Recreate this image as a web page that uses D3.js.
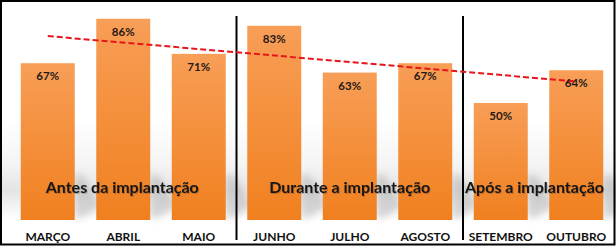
<!DOCTYPE html>
<html><head><meta charset="utf-8">
<script src="https://cdn.jsdelivr.net/npm/d3@7"></script>
<style>html,body{margin:0;padding:0;background:#fff;}svg{display:block;}</style>
</head><body>
<script>
const months = ["MARÇO","ABRIL","MAIO","JUNHO","JULHO","AGOSTO","SETEMBRO","OUTUBRO"];
const values = [67,86,71,83,63,67,50,64];
const groups = ["Antes da implantação","Durante a implantação","Após a implantação"];
const groupStart = [0,3,6];
const groupEnd = [2,5,7];
const trendEnds = [78.6,59.2];

const W=616,H=246;
const svg=d3.select("body").append("svg").attr("width",W).attr("height",H);
const defs=svg.append("defs");
const g1=defs.append("linearGradient").attr("id","barg").attr("x1",0).attr("y1",0).attr("x2",0).attr("y2",1);
g1.append("stop").attr("offset","0%").attr("stop-color","#F89E57");
g1.append("stop").attr("offset","100%").attr("stop-color","#F0801F");
const bg=defs.append("linearGradient").attr("id","bgg").attr("x1",0).attr("y1",0).attr("x2",0).attr("y2",1);
bg.append("stop").attr("offset","0%").attr("stop-color","#ffffff");
bg.append("stop").attr("offset","45%").attr("stop-color","#f4f4f4");
bg.append("stop").attr("offset","70%").attr("stop-color","#e4e4e4");
bg.append("stop").attr("offset","100%").attr("stop-color","#ffffff");
const blur=defs.append("filter").attr("id","blur").attr("x","-50%").attr("y","-50%").attr("width","200%").attr("height","200%");
blur.append("feGaussianBlur").attr("stdDeviation",3.5);
const ts=defs.append("filter").attr("id","tshadow");
ts.append("feDropShadow").attr("dx",1).attr("dy",1).attr("stdDeviation",0.6).attr("flood-color","#000").attr("flood-opacity",0.2);

svg.append("rect").attr("x",0).attr("y",0).attr("width",W).attr("height",H).attr("fill","#fff");
svg.append("rect").attr("x",0).attr("y",120).attr("width",W).attr("height",100).attr("fill","url(#bgg)");

const x=d3.scaleBand().domain(months).range([10,614]).paddingInner(0.285).paddingOuter(0.1425);
const y=d3.scaleLinear().domain([0,100]).range([220,-14]);

// shadows
svg.append("g").attr("filter","url(#blur)").selectAll("path").data(months).join("path")
  .attr("d",m=>{const x0=x(m),w=x.bandwidth(),b=y(0);
    return `M${x0+w},${b-45} L${x0+w+8},${b-45} L${x0+w+26},${b-14} L${x0+w+8},${b-2} L${x0+w},${b-2} Z`;})
  .attr("fill","#a0a0a0").attr("opacity",0.4);

svg.append("g").selectAll("rect").data(values).join("rect")
  .attr("x",(d,i)=>x(months[i])).attr("width",x.bandwidth())
  .attr("y",d=>y(d)).attr("height",d=>y(0)-y(d)).attr("fill","url(#barg)");

// separators
const sepX=[1,2].map(k=>{const a=x(months[groupEnd[k-1]])+x.bandwidth(), b=x(months[groupStart[k]]);return (a+b)/2;});
svg.append("g").selectAll("line").data(sepX).join("line")
  .attr("x1",d=>d).attr("x2",d=>d).attr("y1",16).attr("y2",240)
  .attr("stroke","#000").attr("stroke-width",2);

// trend
const cx=m=>x(m)+x.bandwidth()/2;
svg.append("line").attr("x1",cx(months[0])).attr("x2",cx(months[months.length-1]))
  .attr("y1",y(trendEnds[0])).attr("y2",y(trendEnds[1]))
  .attr("stroke","#E8141B").attr("stroke-width",2).attr("stroke-dasharray","6,3");

// value labels
svg.append("g").selectAll("text").data(values).join("text")
  .attr("x",(d,i)=>cx(months[i])).attr("y",d=>y(d)+17)
  .attr("text-anchor","middle").attr("font-family","Lato").attr("font-weight","bold")
  .attr("font-size",11.5).attr("fill","#1f1a17").text(d=>d+"%");

// month labels
svg.append("g").selectAll("text").data(months).join("text")
  .attr("x",m=>cx(m)).attr("y",240.5)
  .attr("text-anchor","middle").attr("font-family","Lato").attr("font-weight","bold")
  .attr("font-size",12).attr("fill","#111").text(m=>m);

// group labels
svg.append("g").selectAll("text").data(groups).join("text")
  .attr("x",(d,i)=>(x(months[groupStart[i]])+x(months[groupEnd[i]])+x.bandwidth())/2 + [-1,0,-4][i])
  .attr("y",193).attr("text-anchor","middle").attr("font-family","Lato").attr("font-weight","bold")
  .attr("font-size",16).attr("fill","#151515").attr("filter","url(#tshadow)").text(d=>d);

// border
svg.append("rect").attr("x",1).attr("y",1).attr("width",W-2.5).attr("height",H-2.5)
  .attr("fill","none").attr("stroke","#000").attr("stroke-width",2);
</script>
</body></html>
